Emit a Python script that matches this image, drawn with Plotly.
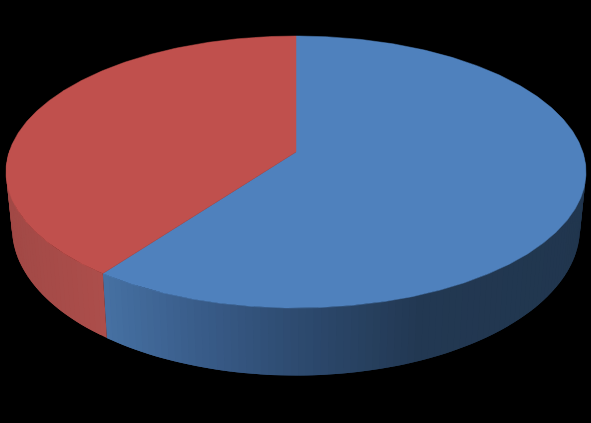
import math
import plotly.graph_objects as go

categories = ["Series A", "Series B"]
values = [61.6, 38.4]
top_colors = ["#4F81BD", "#C0504D"]

# Projected geometry of the disc, in pixels
W, H = 591, 423
CX, CY, RX, RY = 296, 172, 290, 136
APEX = (296, 152)
BCX, BCY, BRX, BRY = 296, 228, 284, 147.5
SIDE_STOPS = {
    1: [(13, (162, 73, 70)), (104, (172, 78, 75))],
    0: [(104, (70, 113, 163)), (200, (57, 92, 137)), (300, (45, 74, 111)), (420, (34, 56, 82)), (585, (33, 54, 78))],
}


def top_pt(deg):
    a = math.radians(deg)
    return CX + RX * math.sin(a), CY - RY * math.cos(a)


def bot_pt(deg):
    a = math.radians(deg)
    return BCX + BRX * math.sin(a), BCY - BRY * math.cos(a)


def lerp_color(stops, x):
    if x <= stops[0][0]:
        c = stops[0][1]
    elif x >= stops[-1][0]:
        c = stops[-1][1]
    else:
        for (x0, c0), (x1, c1) in zip(stops, stops[1:]):
            if x0 <= x <= x1:
                f = (x - x0) / (x1 - x0)
                c = tuple(c0[i] + f * (c1[i] - c0[i]) for i in range(3))
                break
    return "rgb(%d,%d,%d)" % tuple(round(v) for v in c)


fig = go.Figure()
total = sum(values)
spans = []
start = 0.0
for v in values:
    end = start + 360.0 * v / total
    spans.append((start, end))
    start = end

# Side wall strips, only the front-facing part of each slice.
# Each strip overlaps the next, which is painted over it, so no seams show.
FRONT = (80, 280)
for idx, (s, e) in enumerate(spans):
    lo, hi = max(s, FRONT[0]), min(e, FRONT[1])
    n = max(2, int((hi - lo) / 1.5))
    for k in range(n):
        a0 = lo + (hi - lo) * k / n
        a1 = lo + (hi - lo) * min(k + 2, n) / n
        am = lo + (hi - lo) * (k + 0.5) / n
        pts = [top_pt(a0), top_pt(a1), bot_pt(a1), bot_pt(a0)]
        xm = (top_pt(am)[0] + bot_pt(am)[0]) / 2
        col = lerp_color(SIDE_STOPS[idx], xm)
        fig.add_trace(go.Scatter(
            x=[p[0] for p in pts] + [pts[0][0]],
            y=[p[1] for p in pts] + [pts[0][1]],
            mode="lines", fill="toself", fillcolor=col,
            line=dict(width=0), hoverinfo="skip", showlegend=False,
        ))

# Top faces
for idx, (s, e) in enumerate(spans):
    n = int((e - s) / 0.5)
    arc = [top_pt(s + (e - s) * k / n) for k in range(n + 1)]
    pts = [APEX] + arc + [APEX]
    fig.add_trace(go.Scatter(
        x=[p[0] for p in pts], y=[p[1] for p in pts],
        mode="lines", fill="toself", fillcolor=top_colors[idx],
        line=dict(color=top_colors[idx], width=0.5),
        name=categories[idx], hoverinfo="skip", showlegend=False,
    ))

fig.update_layout(
    width=W, height=H, margin=dict(l=0, r=0, t=0, b=0),
    paper_bgcolor="#000000", plot_bgcolor="#000000", showlegend=False,
    xaxis=dict(range=[0, W], visible=False, fixedrange=True),
    yaxis=dict(range=[H, 0], visible=False, fixedrange=True),
)
fig.write_html(
    "out.html",
    config={"displayModeBar": False},
    post_script="document.body.style.margin='0';document.body.style.background='#000';document.body.style.overflow='hidden';",
)
